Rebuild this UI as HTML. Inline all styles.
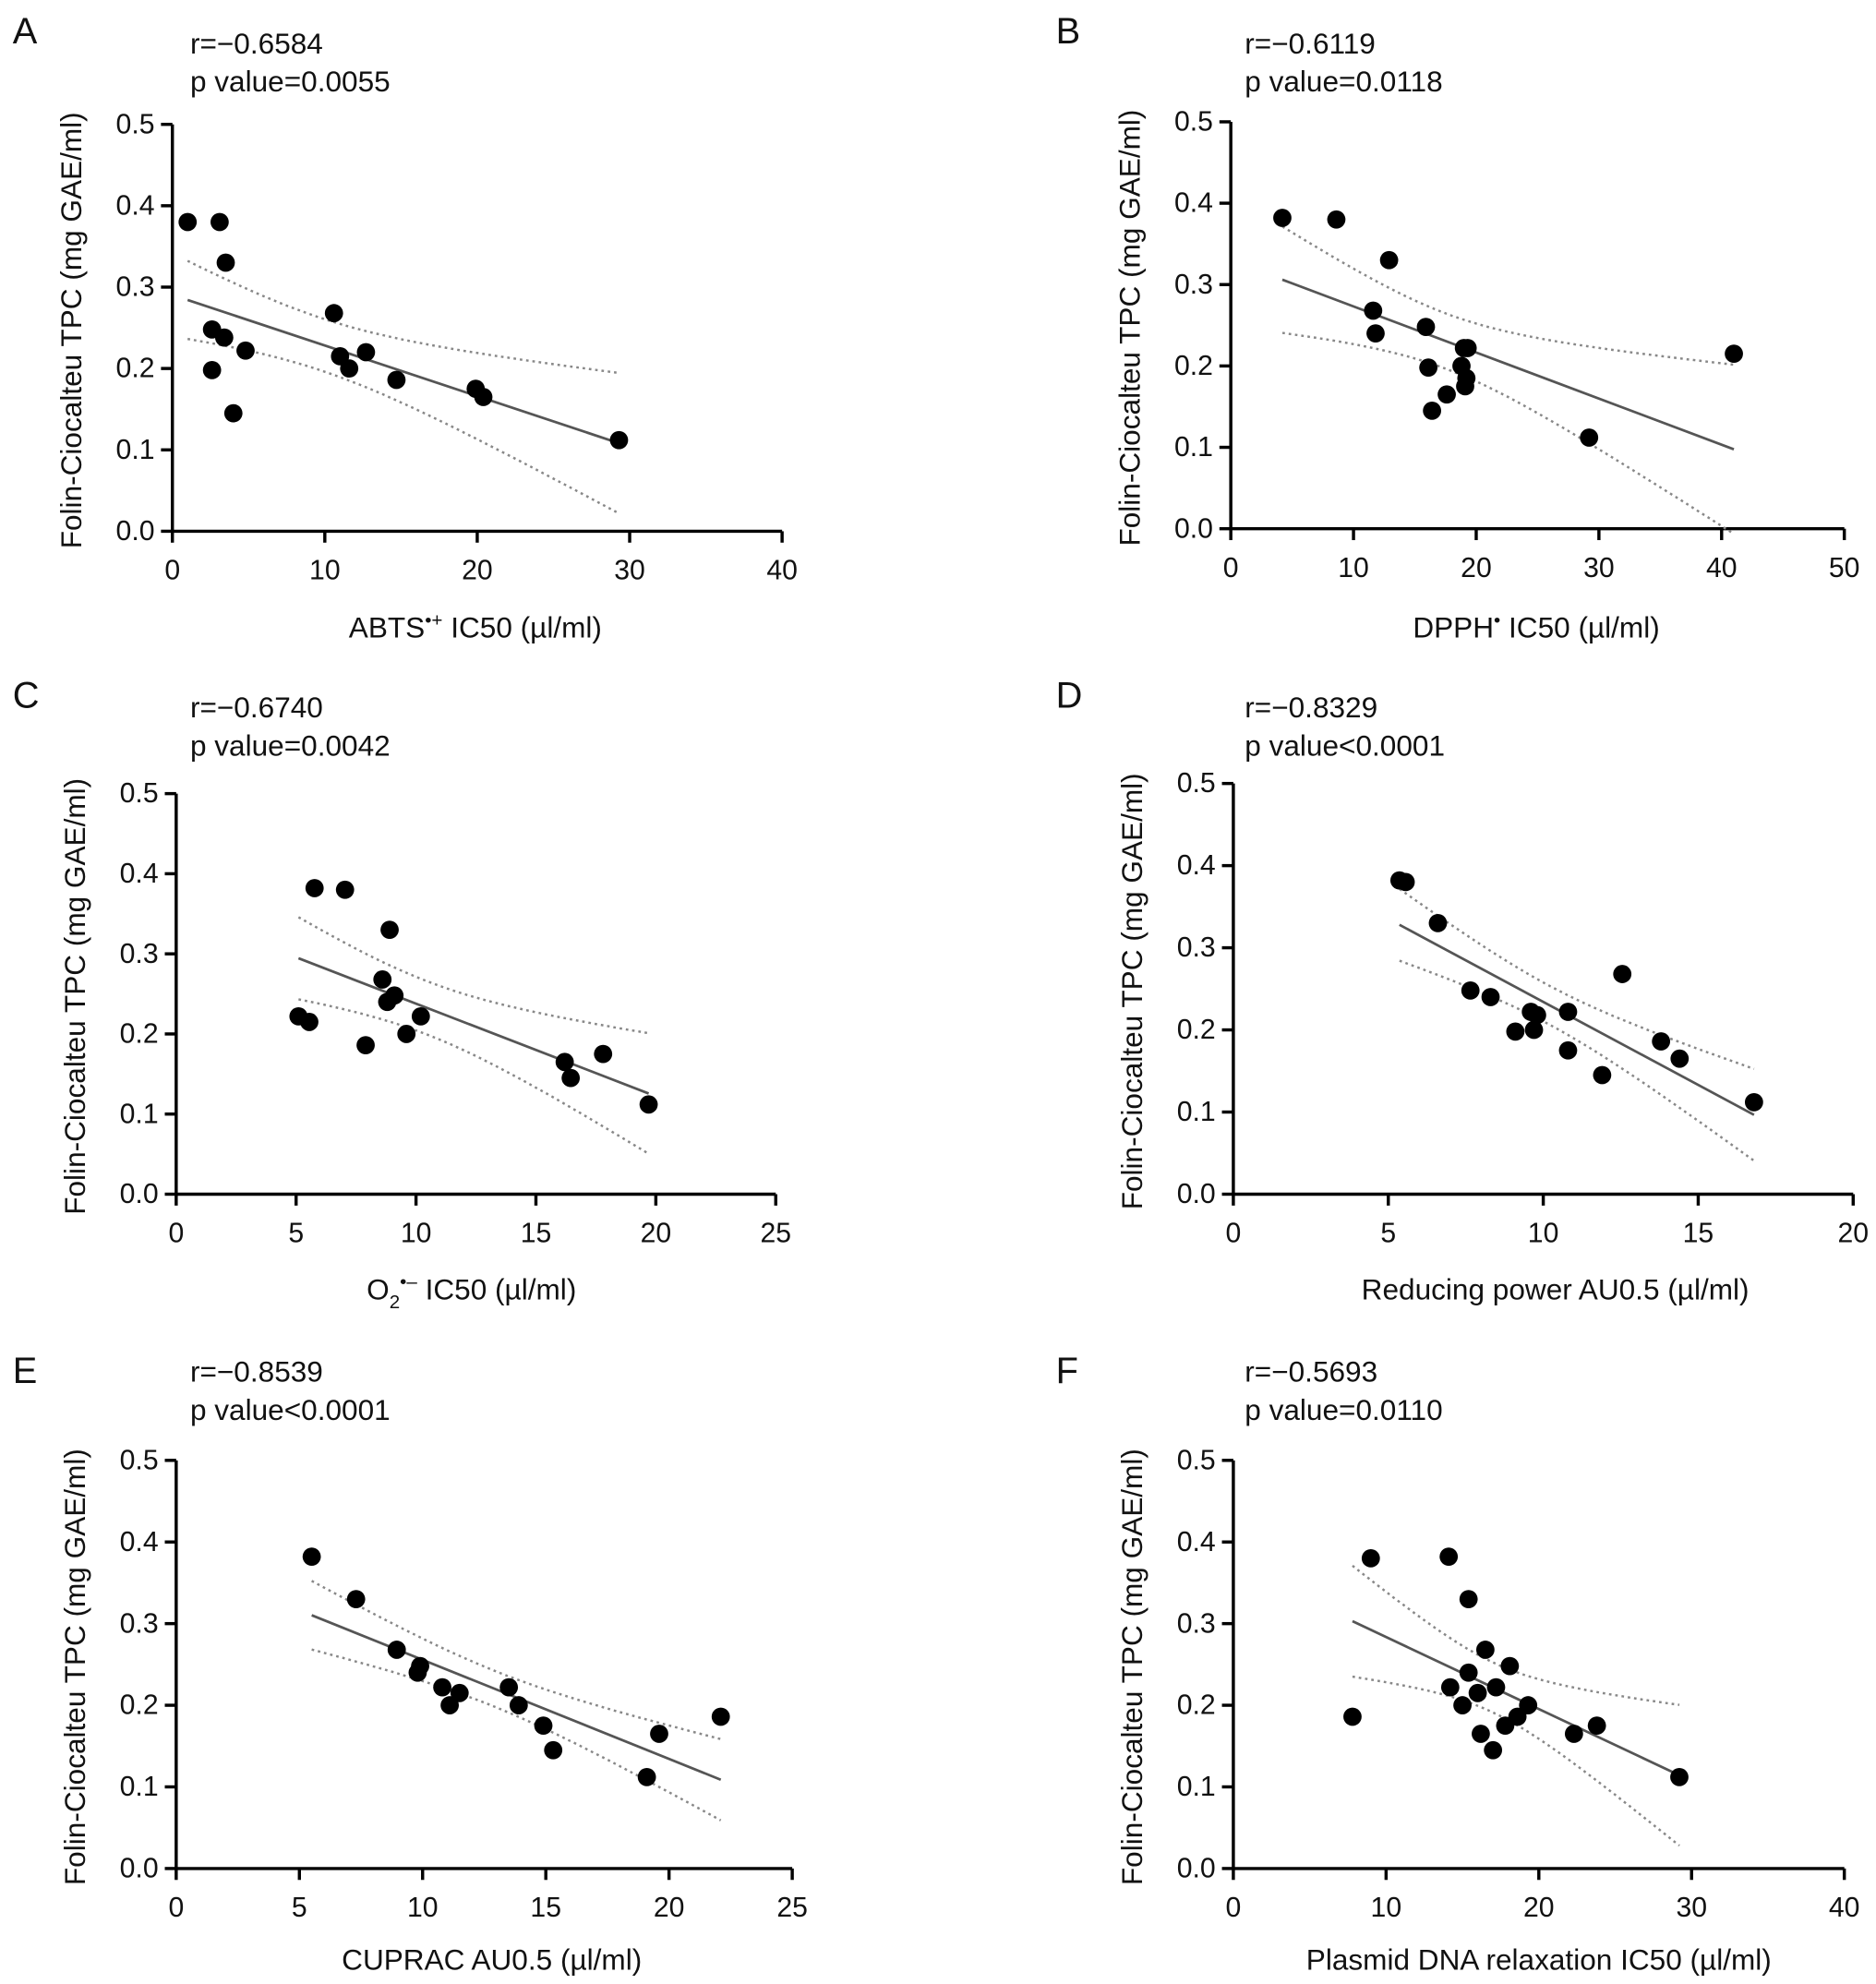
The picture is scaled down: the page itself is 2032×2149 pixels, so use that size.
<!DOCTYPE html>
<html><head><meta charset="utf-8"><style>
html,body{margin:0;padding:0;background:#fff;}
svg{display:block;font-family:"Liberation Sans",Arial,sans-serif;}
</style></head><body>
<svg id="fig" width="2032" height="2149" viewBox="0 0 1480 1565" xmlns="http://www.w3.org/2000/svg"></svg>
<script>
// ---- Panel data (x, y) ----
const aX=[1,3.1,3.5,10.6,2.6,3.4,4.8,2.6,4,11,11.6,12.7,14.7,19.9,20.4,29.3];
const aY=[0.38,0.38,0.33,0.268,0.248,0.238,0.222,0.198,0.145,0.215,0.2,0.22,0.186,0.175,0.165,0.112];
const bX=[4.2,8.6,12.9,11.6,11.8,15.9,16.1,18.8,19,19.3,19.2,19.1,17.6,16.4,29.2,41];
const bY=[0.382,0.38,0.33,0.268,0.24,0.248,0.198,0.2,0.222,0.222,0.185,0.175,0.165,0.145,0.112,0.215];
const cX=[5.1,5.55,5.77,7.04,8.9,8.6,8.8,9.1,10.2,9.6,7.9,16.2,16.45,17.8,19.7];
const cY=[0.222,0.215,0.382,0.38,0.33,0.268,0.24,0.248,0.222,0.2,0.186,0.165,0.145,0.175,0.112];
const dX=[5.36,5.56,6.6,7.65,8.3,9.1,9.6,9.7,9.8,10.8,10.8,11.9,12.55,13.8,14.4,16.8];
const dY=[0.382,0.38,0.33,0.248,0.24,0.198,0.222,0.2,0.218,0.222,0.175,0.145,0.268,0.186,0.165,0.112];
const eX=[5.5,7.3,8.95,9.9,9.8,10.8,11.1,11.5,13.5,13.9,14.9,15.3,19.1,19.6,22.1];
const eY=[0.382,0.33,0.268,0.248,0.24,0.222,0.2,0.215,0.222,0.2,0.175,0.145,0.112,0.165,0.186];
const fX=[7.8,9.0,14.1,15.4,16.5,18.1,15.4,14.2,16.0,17.2,15.0,19.3,18.6,17.8,16.2,17.0,22.3,23.8,29.2];
const fY=[0.186,0.38,0.382,0.33,0.268,0.248,0.24,0.222,0.215,0.222,0.2,0.2,0.186,0.175,0.165,0.145,0.165,0.175,0.112];
const yTicks=["0.0","0.1","0.2","0.3","0.4","0.5"];
const xTicksA=[0,10,20,30,40], xTicksB=[0,10,20,30,40,50], xTicksC=[0,5,10,15,20,25];
const xTicksD=[0,5,10,15,20], xTicksE=[0,5,10,15,20,25], xTicksF=[0,10,20,30,40];
const rLabels=["r=\u22120.6584","r=\u22120.6119","r=\u22120.6740","r=\u22120.8329","r=\u22120.8539","r=\u22120.5693"];
const pLabels=["p value=0.0055","p value=0.0118","p value=0.0042","p value<0.0001","p value<0.0001","p value=0.0110"];

const NS="http://www.w3.org/2000/svg";
const svg=document.getElementById('fig');
function mk(tag,attrs,parent){const e=document.createElementNS(NS,tag);for(const k in attrs)e.setAttribute(k,attrs[k]);(parent||svg).appendChild(e);return e;}

const panels=[
 {L:"A",X:aX,Y:aY,xt:xTicksA,ox:136,top:98,bot:419,right:617,lx:10,ly:34,tx:150,ty:42,title:'ABTS<tspan dy="-9" font-size="15">\u2022+</tspan><tspan dy="9"> IC50 (\u00b5l/ml)</tspan>',tcx:375,tcy:503},
 {L:"B",X:bX,Y:bY,xt:xTicksB,ox:971,top:96,bot:417,right:1455,lx:833,ly:34,tx:982,ty:42,title:'DPPH<tspan dy="-9" font-size="15">\u2022</tspan><tspan dy="9"> IC50 (\u00b5l/ml)</tspan>',tcx:1212,tcy:503},
 {L:"C",X:cX,Y:cY,xt:xTicksC,ox:139,top:626,bot:942,right:612,lx:10,ly:558,tx:150,ty:566,title:'O<tspan dy="7" font-size="15">2</tspan><tspan dy="-16" font-size="15">\u2022\u2013</tspan><tspan dy="9"> IC50 (\u00b5l/ml)</tspan>',tcx:372,tcy:1025},
 {L:"D",X:dX,Y:dY,xt:xTicksD,ox:973,top:618,bot:942,right:1462,lx:833,ly:558,tx:982,ty:566,title:'Reducing power AU0.5 (\u00b5l/ml)',tcx:1227,tcy:1025},
 {L:"E",X:eX,Y:eY,xt:xTicksE,ox:139,top:1152,bot:1474,right:625,lx:10,ly:1091,tx:150,ty:1090,title:'CUPRAC AU0.5 (\u00b5l/ml)',tcx:388,tcy:1554},
 {L:"F",X:fX,Y:fY,xt:xTicksF,ox:973,top:1152,bot:1474,right:1455,lx:833,ly:1091,tx:982,ty:1090,title:'Plasmid DNA relaxation IC50 (\u00b5l/ml)',tcx:1214,tcy:1554}
];

panels.forEach((p,i)=>{
 const g=mk('g',{});
 
 
 const xmax=p.xt[p.xt.length-1];
 const sx=v=>p.ox+(v/xmax)*(p.right-p.ox);
 const sy=v=>p.bot-(v/0.5)*(p.bot-p.top);
 const lab=mk('text',{x:p.lx,y:p.ly,'font-size':29,fill:'#111'},g);lab.textContent=p.L;
 
 const r=mk('text',{x:p.tx,y:p.ty,'font-size':23,fill:'#111'},g);r.textContent=rLabels[i];
 
 const pv=mk('text',{x:p.tx,y:p.ty+30,'font-size':23,fill:'#111'},g);pv.textContent=pLabels[i];
 
 const ya=mk('line',{x1:p.ox,y1:p.top,x2:p.ox,y2:p.bot,stroke:'#000','stroke-width':2.5},g);
 
 const xa=mk('line',{x1:p.ox-1,y1:p.bot,x2:p.right,y2:p.bot,stroke:'#000','stroke-width':2.5},g);
 
 yTicks.forEach(t=>{const y=sy(parseFloat(t));
  mk('line',{x1:p.ox-9,y1:y,x2:p.ox,y2:y,stroke:'#000','stroke-width':2.5},g);
  const tl=mk('text',{x:p.ox-14,y:y+7,'font-size':22,'text-anchor':'end',fill:'#111'},g);tl.textContent=t;
  });
 p.xt.forEach(t=>{const x=sx(t);
  mk('line',{x1:x,y1:p.bot,x2:x,y2:p.bot+9,stroke:'#000','stroke-width':2.5},g);
  const tl=mk('text',{x:x,y:p.bot+38,'font-size':22,'text-anchor':'middle',fill:'#111'},g);tl.textContent=t;
  });
 const yt=mk('text',{x:0,y:0,'font-size':23,'text-anchor':'middle',fill:'#111',transform:`translate(${p.ox-72},${(p.top+p.bot)/2+2}) rotate(-90)`},g);
 yt.textContent='Folin-Ciocalteu TPC (mg GAE/ml)';
 
 const xtt=mk('text',{x:p.tcx,y:p.tcy,'font-size':23,'text-anchor':'middle',fill:'#111'},g);xtt.innerHTML=p.title;
 
 const n=p.X.length,mx=p.X.reduce((a,b)=>a+b)/n,my=p.Y.reduce((a,b)=>a+b)/n;
 let sxx=0,sxy=0;p.X.forEach((x,k)=>{sxx+=(x-mx)**2;sxy+=(x-mx)*(p.Y[k]-my);});
 const b=sxy/sxx,a=my-b*mx;let sse=0;p.X.forEach((x,k)=>{sse+=(p.Y[k]-a-b*x)**2;});
 const s=Math.sqrt(sse/(n-2)),tq=2.14;
 const x0=Math.min(...p.X),x1=Math.max(...p.X);
 let up=[],lo=[];
 for(let k=0;k<=40;k++){const x=x0+(x1-x0)*k/40,yh=a+b*x,h=tq*s*Math.sqrt(1/n+(x-mx)**2/sxx);
  up.push(sx(x).toFixed(1)+','+sy(yh+h).toFixed(1));lo.push(sx(x).toFixed(1)+','+sy(yh-h).toFixed(1));}
 const cu=mk('polyline',{points:up.join(' '),fill:'none',stroke:'#888','stroke-width':1.8,'stroke-dasharray':'2,3'},g);
 
 const cl=mk('polyline',{points:lo.join(' '),fill:'none',stroke:'#888','stroke-width':1.8,'stroke-dasharray':'2,3'},g);
 
 const rl=mk('line',{x1:sx(x0),y1:sy(a+b*x0),x2:sx(x1),y2:sy(a+b*x1),stroke:'#555','stroke-width':2},g);
 
 p.X.forEach((x,k)=>{const c=mk('circle',{cx:sx(x),cy:sy(p.Y[k]),r:7.2,fill:'#000'},g);
  });
});
</script>
</body></html>
